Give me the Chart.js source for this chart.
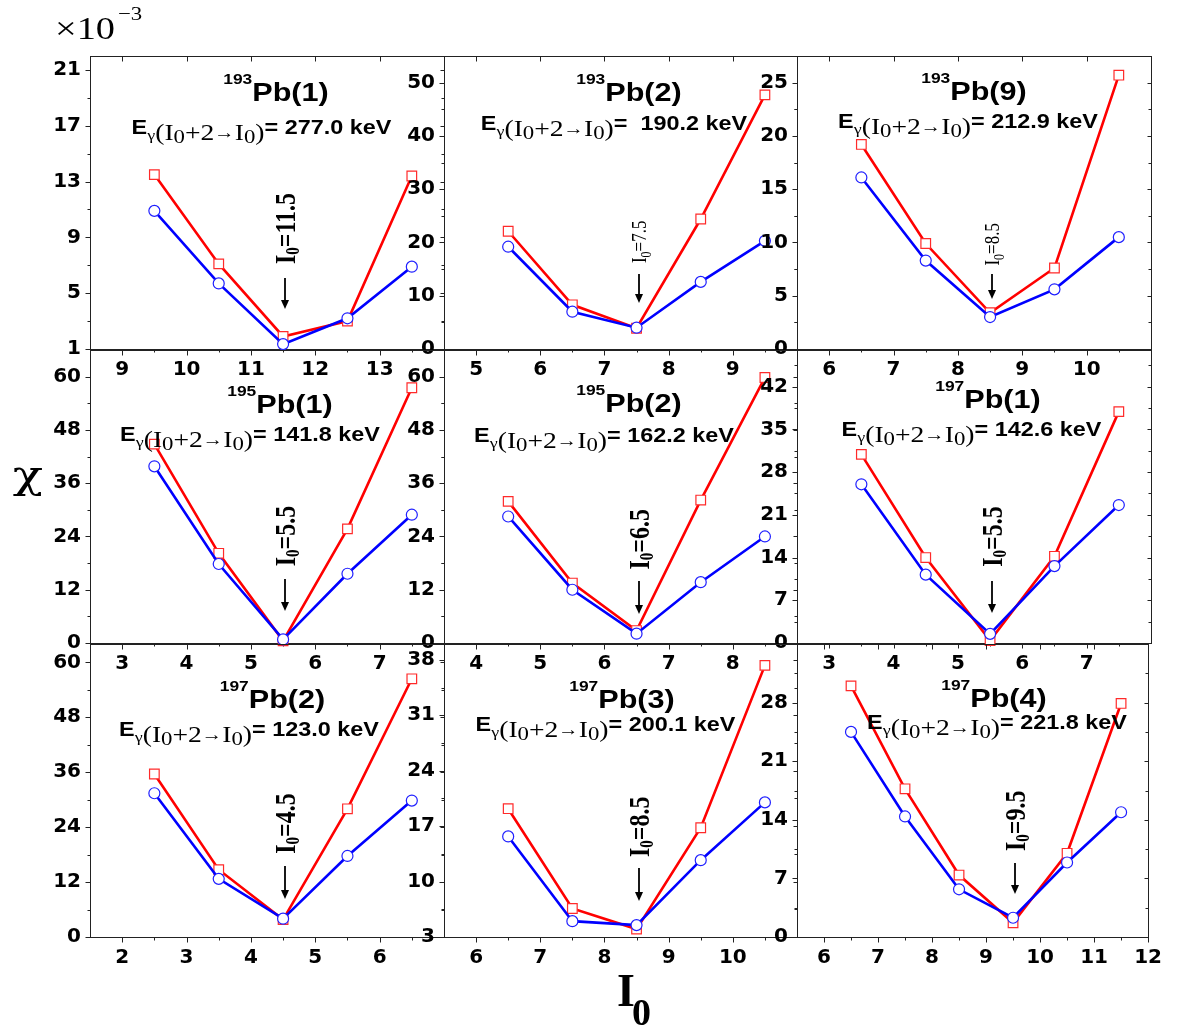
<!DOCTYPE html>
<html lang="en">
<head>
<meta charset="UTF-8">
<title>chi vs I0</title>
<script src="https://cdn.jsdelivr.net/npm/chart.js"></script>
<style>
  * { margin: 0; padding: 0; box-sizing: border-box; }
  body { background: #fff; width: 1177px; height: 1031px; overflow: hidden; }
  #wrap { position: relative; width: 1177px; height: 1031px; }
  #wrap canvas { position: absolute; }
</style>
</head>
<body>
<div id="wrap"><canvas id="labels" width="1177" height="1031" style="left:0;top:0"></canvas></div>
<script>
// chi values are in units of 10^-3 ; sq = red squares, ci = blue circles
const I0_193Pb1 = [9.5, 10.5, 11.5, 12.5, 13.5];
const sq_193Pb1 = [13.5, 7.1, 1.9, 3.0, 13.4];
const ci_193Pb1 = [10.9, 5.7, 1.35, 3.2, 6.9];

const I0_193Pb2 = [5.5, 6.5, 7.5, 8.5, 9.5];
const sq_193Pb2 = [22.1, 8.3, 3.9, 24.4, 47.7];
const ci_193Pb2 = [19.2, 7.0, 4.0, 12.6, 20.3];

const I0_193Pb9 = [6.5, 7.5, 8.5, 9.5, 10.5];
const sq_193Pb9 = [19.2, 9.9, 3.4, 7.6, 25.7];
const ci_193Pb9 = [16.1, 8.3, 3.0, 5.6, 10.5];

const I0_195Pb1 = [3.5, 4.5, 5.5, 6.5, 7.5];
const sq_195Pb1 = [44.8, 20.2, 0.5, 25.7, 57.5];
const ci_195Pb1 = [39.8, 17.8, 0.8, 15.6, 28.9];

const I0_195Pb2 = [4.5, 5.5, 6.5, 7.5, 8.5];
const sq_195Pb2 = [31.9, 13.5, 2.8, 32.2, 59.8];
const ci_195Pb2 = [28.5, 12.0, 2.1, 13.7, 24.0];

const I0_197Pb1 = [3.5, 4.5, 5.5, 6.5, 7.5];
const sq_197Pb1 = [30.9, 14.0, 0.4, 14.2, 37.9];
const ci_197Pb1 = [26.0, 11.2, 1.5, 12.6, 22.6];

const I0_197Pb2 = [2.5, 3.5, 4.5, 5.5, 6.5];
const sq_197Pb2 = [35.6, 14.7, 3.8, 28.0, 56.4];
const ci_197Pb2 = [31.4, 12.7, 4.0, 17.7, 29.8];

const I0_197Pb3 = [6.5, 7.5, 8.5, 9.5, 10.5];
const sq_197Pb3 = [19.2, 6.6, 4.0, 16.8, 37.3];
const ci_197Pb3 = [15.7, 5.0, 4.5, 12.7, 20.0];

const I0_197Pb4 = [6.5, 7.5, 8.5, 9.5, 10.5, 11.5];
const sq_197Pb4 = [30.0, 17.7, 7.4, 1.7, 10.0, 27.9];
const ci_197Pb4 = [24.5, 14.4, 5.7, 2.3, 8.9, 14.9];

// tick labels
const xt_193Pb1 = [9, 10, 11, 12, 13];
const xt_193Pb2 = [5, 6, 7, 8, 9];
const xt_193Pb9 = [6, 7, 8, 9, 10];
const xt_195Pb1 = [3, 4, 5, 6, 7];
const xt_195Pb2 = [4, 5, 6, 7, 8];
const xt_197Pb1 = [3, 4, 5, 6, 7];
const xt_197Pb2 = [2, 3, 4, 5, 6];
const xt_197Pb3 = [6, 7, 8, 9, 10];
const xt_197Pb4 = [6, 7, 8, 9, 10, 11, 12];

const yt_193Pb1 = [1, 5, 9, 13, 17, 21];
const yt_193Pb2 = [0, 10, 20, 30, 40, 50];
const yt_193Pb9 = [0, 5, 10, 15, 20, 25];
const yt_195Pb1 = [0, 12, 24, 36, 48, 60];
const yt_195Pb2 = [0, 12, 24, 36, 48, 60];
const yt_197Pb1 = [0, 7, 14, 21, 28, 35, 42];
const yt_197Pb2 = [0, 12, 24, 36, 48, 60];
const yt_197Pb3 = [3, 10, 17, 24, 31, 38];
const yt_197Pb4 = [0, 7, 14, 21, 28];

const panels = [
  { iso: '193', band: 'Pb(1)', eg: '= 277.0 keV', I0: '11.5', i0: 11.5, x: I0_193Pb1, sq: sq_193Pb1, ci: ci_193Pb1, xr: [8.5, 14], xt: xt_193Pb1, yr: [1, 22], yt: yt_193Pb1 },
  { iso: '193', band: 'Pb(2)', eg: '=  190.2 keV', I0: '7.5', i0: 7.5, x: I0_193Pb2, sq: sq_193Pb2, ci: ci_193Pb2, xr: [4.5, 10], xt: xt_193Pb2, yr: [0, 55], yt: yt_193Pb2 },
  { iso: '193', band: 'Pb(9)', eg: '= 212.9 keV', I0: '8.5', i0: 8.5, x: I0_193Pb9, sq: sq_193Pb9, ci: ci_193Pb9, xr: [5.5, 11], xt: xt_193Pb9, yr: [0, 27.5], yt: yt_193Pb9 },
  { iso: '195', band: 'Pb(1)', eg: '= 141.8 keV', I0: '5.5', i0: 5.5, x: I0_195Pb1, sq: sq_195Pb1, ci: ci_195Pb1, xr: [2.5, 8], xt: xt_195Pb1, yr: [0, 66], yt: yt_195Pb1 },
  { iso: '195', band: 'Pb(2)', eg: '= 162.2 keV', I0: '6.5', i0: 6.5, x: I0_195Pb2, sq: sq_195Pb2, ci: ci_195Pb2, xr: [3.5, 9], xt: xt_195Pb2, yr: [0, 66], yt: yt_195Pb2 },
  { iso: '197', band: 'Pb(1)', eg: '= 142.6 keV', I0: '5.5', i0: 5.5, x: I0_197Pb1, sq: sq_197Pb1, ci: ci_197Pb1, xr: [2.5, 8], xt: xt_197Pb1, yr: [0, 48], yt: yt_197Pb1 },
  { iso: '197', band: 'Pb(2)', eg: '= 123.0 keV', I0: '4.5', i0: 4.5, x: I0_197Pb2, sq: sq_197Pb2, ci: ci_197Pb2, xr: [1.5, 7], xt: xt_197Pb2, yr: [0, 64], yt: yt_197Pb2 },
  { iso: '197', band: 'Pb(3)', eg: '= 200.1 keV', I0: '8.5', i0: 8.5, x: I0_197Pb3, sq: sq_197Pb3, ci: ci_197Pb3, xr: [5.5, 11], xt: xt_197Pb3, yr: [3, 40], yt: yt_197Pb3 },
  { iso: '197', band: 'Pb(4)', eg: '= 221.8 keV', I0: '9.5', i0: 9.5, x: I0_197Pb4, sq: sq_197Pb4, ci: ci_197Pb4, xr: [5.5, 12], xt: xt_197Pb4, yr: [0, 35], yt: yt_197Pb4 }
];

// text placement inside each panel (px from the plot area's top-left)
const notes = [
  { t: [186, 45], s: [171.5, 77.7], lbl: 172.5, arr: [222, 253], small: false },
  { t: [185, 45], s: [170, 74.3], lbl: 185.8, arr: [218, 247], small: true },
  { t: [177, 44], s: [171, 72.3], lbl: 188.3, arr: [218, 243], small: true },
  { t: [190, 63], s: [160, 91], lbl: 186, arr: [229, 261], small: false },
  { t: [185, 61.5], s: [160, 92], lbl: 189.3, arr: [231, 264], small: false },
  { t: [191, 58], s: [174.5, 86], lbl: 186.5, arr: [231, 263], small: false },
  { t: [182.5, 64], s: [159, 92], lbl: 179.5, arr: [222, 255], small: false },
  { t: [178, 64], s: [161.5, 87], lbl: 182.8, arr: [224, 257], small: false },
  { t: [197, 62.5], s: [200, 85], lbl: 176.8, arr: [219, 250], small: false }
];

const COLX = [90, 444, 797], COLW = [354, 353, 354], ROWY = [55, 349, 643], ROWH = 294;
const PADL = 60, PADT = 20, PADR = 20, PADB = 45;
const SX = 1.2; // the figure's text is stretched horizontally

const SANS = '"Liberation Sans", Arial, sans-serif';
const SERIF = '"Liberation Serif", "Times New Roman", serif';

function drawParts(ctx, parts, cx, by) {
  let w = 0;
  parts.forEach(p => { ctx.font = p.f; w += ctx.measureText(p.t).width; });
  let xx = -w / 2;
  ctx.save();
  ctx.translate(cx, by);
  ctx.scale(SX, 1);
  ctx.fillStyle = '#000';
  ctx.textAlign = 'left';
  ctx.textBaseline = 'alphabetic';
  parts.forEach(p => {
    ctx.font = p.f;
    ctx.fillText(p.t, xx, p.dy || 0);
    xx += ctx.measureText(p.t).width;
  });
  ctx.restore();
}

function minorOf(ticks, lo, hi) {
  const step = ticks[1] - ticks[0];
  const out = [];
  for (let v = ticks[0] - step / 2; v < hi - 1e-6; v += step) {
    if (v > lo + 1e-6) out.push(v);
  }
  return out;
}

function decor(p, n) {
  return {
    id: 'decor',
    beforeDatasetsDraw(chart) {
      const { ctx, chartArea: a, scales: { x, y } } = chart;
      const l = Math.round(a.left) + 0.5, r = Math.round(a.right) + 0.5;
      const t = Math.round(a.top) + 0.5, b = Math.round(a.bottom) + 0.5;
      ctx.save();
      ctx.strokeStyle = '#222';
      ctx.lineWidth = 1;
      ctx.strokeRect(l, t, r - l, b - t);
      ctx.beginPath();
      p.xt.forEach(v => {
        const px = Math.round(x.getPixelForValue(v)) + 0.5;
        ctx.moveTo(px, b); ctx.lineTo(px, b + 5);
        ctx.moveTo(px, t); ctx.lineTo(px, t + 5);
      });
      minorOf(p.xt, p.xr[0], p.xr[1]).forEach(v => {
        const px = Math.round(x.getPixelForValue(v)) + 0.5;
        ctx.moveTo(px, b); ctx.lineTo(px, b + 3);
      });
      p.yt.forEach(v => {
        const py = Math.round(y.getPixelForValue(v)) + 0.5;
        ctx.moveTo(l - 5, py); ctx.lineTo(l, py);
        ctx.moveTo(r - 4, py); ctx.lineTo(r, py);
      });
      minorOf(p.yt, p.yr[0], p.yr[1]).forEach(v => {
        const py = Math.round(y.getPixelForValue(v)) + 0.5;
        ctx.moveTo(l - 3, py); ctx.lineTo(l, py);
        ctx.moveTo(r - 3, py); ctx.lineTo(r, py);
      });
      ctx.stroke();
      ctx.restore();
    },
    afterDatasetsDraw(chart) {
      const { ctx, chartArea: a, scales: { x } } = chart;
      // band name
      drawParts(ctx, [
        { t: p.iso, f: 'bold 14.5px ' + SANS, dy: -17 },
        { t: p.band, f: 'bold 25.5px ' + SANS }
      ], a.left + n.t[0], a.top + n.t[1]);
      // transition energy
      drawParts(ctx, [
        { t: 'E', f: 'bold 19.5px ' + SANS },
        { t: 'γ', f: '15px ' + SERIF, dy: 6 },
        { t: '(I', f: '23px ' + SERIF, dy: 6 },
        { t: '0', f: '19px ' + SERIF, dy: 9 },
        { t: '+2', f: '23px ' + SERIF, dy: 6 },
        { t: '→', f: '17px ' + SERIF, dy: 4 },
        { t: 'I', f: '23px ' + SERIF, dy: 6 },
        { t: '0', f: '19px ' + SERIF, dy: 9 },
        { t: ')', f: '23px ' + SERIF, dy: 6 },
        { t: p.eg, f: 'bold 19.5px ' + SANS }
      ], a.left + n.s[0], a.top + n.s[1]);
      // arrow and rotated I0 label
      const ax = Math.round(x.getPixelForValue(p.i0)) + 2;
      const big = n.small ? 17 : 24, sub = n.small ? 12 : 15, wt = n.small ? '' : 'bold ';
      const parts = [
        { t: 'I', f: wt + big + 'px ' + SERIF },
        { t: '0', f: wt + sub + 'px ' + SERIF, dy: 4 },
        { t: '=' + p.I0, f: wt + big + 'px ' + SERIF }
      ];
      let w = 0;
      parts.forEach(q => { ctx.font = q.f; w += ctx.measureText(q.t).width; });
      ctx.save();
      ctx.translate(ax, a.top + n.lbl);
      ctx.scale(SX, 1);
      ctx.rotate(-Math.PI / 2);
      ctx.fillStyle = '#000';
      ctx.textBaseline = 'alphabetic';
      let xx = -w / 2;
      const base = big * 0.33;
      parts.forEach(q => {
        ctx.font = q.f;
        ctx.fillText(q.t, xx, base + (q.dy || 0));
        xx += ctx.measureText(q.t).width;
      });
      ctx.restore();

      const y0 = a.top + n.arr[0], y1 = a.top + n.arr[1];
      ctx.save();
      ctx.strokeStyle = '#000';
      ctx.fillStyle = '#000';
      ctx.lineWidth = 1.8;
      ctx.beginPath();
      ctx.moveTo(ax, y0); ctx.lineTo(ax, y1 - 7);
      ctx.stroke();
      ctx.beginPath();
      ctx.moveTo(ax - 4, y1 - 9); ctx.lineTo(ax + 4, y1 - 9); ctx.lineTo(ax, y1);
      ctx.closePath();
      ctx.fill();
      ctx.restore();
    }
  };
}

const wrap = document.getElementById('wrap');
const tickFont = { family: '"DejaVu Sans"', weight: 'bold', size: 20 };

panels.forEach((p, i) => {
  const col = i % 3, row = Math.floor(i / 3);
  const cv = document.createElement('canvas');
  const W = COLW[col] + PADL + PADR, H = ROWH + PADT + PADB;
  cv.width = W; cv.height = H;
  cv.style.left = (COLX[col] - PADL) + 'px';
  cv.style.top = (ROWY[row] - PADT) + 'px';
  cv.style.width = W + 'px';
  cv.style.height = H + 'px';
  wrap.appendChild(cv);

  new Chart(cv, {
    type: 'line',
    data: {
      datasets: [
        {
          data: p.x.map((v, k) => ({ x: v, y: p.ci[k] })),
          borderColor: '#0000ff', borderWidth: 2.6,
          pointStyle: 'circle', pointRadius: 5.5, pointBorderWidth: 1.2,
          pointBackgroundColor: '#ffffff', pointBorderColor: '#1f1fff',
          clip: false
        },
        {
          data: p.x.map((v, k) => ({ x: v, y: p.sq[k] })),
          borderColor: '#ff0000', borderWidth: 2.6,
          pointStyle: 'rect', pointRadius: 6.8, pointBorderWidth: 1.2,
          pointBackgroundColor: '#ffffff', pointBorderColor: '#ff2a2a',
          clip: false
        }
      ]
    },
    options: {
      responsive: false,
      animation: false,
      devicePixelRatio: 1,
      layout: { padding: { left: 0, top: PADT, right: PADR, bottom: 0 } },
      plugins: { legend: { display: false }, tooltip: { enabled: false } },
      scales: {
        x: {
          type: 'linear', min: p.xr[0], max: p.xr[1],
          afterFit: s => { s.height = PADB; },
          afterBuildTicks: s => { s.ticks = p.xt.map(v => ({ value: v })); },
          grid: { display: false, drawTicks: false },
          border: { display: false },
          ticks: { font: tickFont, color: '#000', padding: 9, maxRotation: 0, autoSkip: false }
        },
        y: {
          type: 'linear', min: p.yr[0], max: p.yr[1],
          afterFit: s => { s.width = PADL; },
          afterBuildTicks: s => { s.ticks = p.yt.map(v => ({ value: v })); },
          grid: { display: false, drawTicks: false },
          border: { display: false },
          ticks: { font: tickFont, color: '#000', padding: 9, autoSkip: false }
        }
      }
    },
    plugins: [decor(p, notes[i])]
  });
});

// figure-wide labels
const lc = document.getElementById('labels').getContext('2d');
lc.fillStyle = '#000';
lc.textBaseline = 'alphabetic';
lc.save();
lc.translate(55, 39); lc.scale(SX, 1);
lc.font = '32px ' + SERIF;
lc.fillText('×10', 0, 0);
lc.restore();
lc.save();
lc.translate(118, 20); lc.scale(SX, 1);
lc.font = '19px ' + SERIF;
lc.fillText('−3', 0, 0);
lc.restore();
lc.save();
lc.translate(28, 488); lc.scale(1.25, 1);
lc.font = '40px "DejaVu Serif", serif';
lc.textAlign = 'center';
lc.fillText('χ', 0, 0);
lc.restore();
lc.font = 'bold 46px ' + SERIF;
lc.fillText('I', 617, 1006);
lc.font = 'bold 38px ' + SERIF;
lc.fillText('0', 632, 1025);
</script>
</body>
</html>
